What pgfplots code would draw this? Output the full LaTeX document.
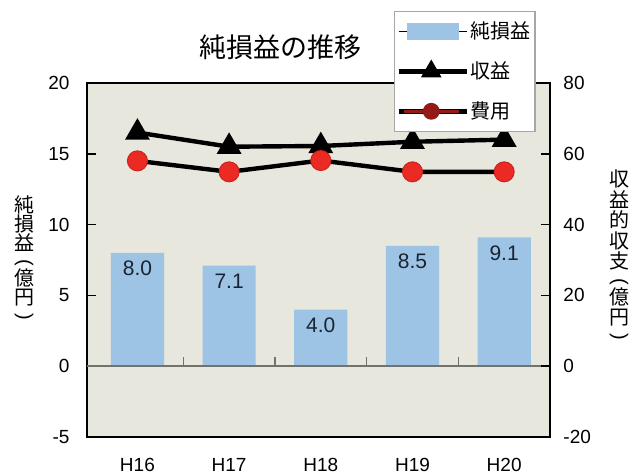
\documentclass[border=0pt]{standalone}
\usepackage{pgfplots}
\usepackage{pgfplotstable}
\pgfplotsset{compat=1.18}
\usepackage{fontspec}
\setmainfont{Liberation Sans}
\newfontfamily\jp{Noto Sans CJK JP}

\definecolor{plotbg}{RGB}{232,231,221}
\definecolor{barblue}{RGB}{158,196,229}
\definecolor{costred}{RGB}{236,42,36}
\definecolor{costline}{RGB}{150,25,25}
\definecolor{zeroline}{RGB}{115,115,110}
\definecolor{labelnavy}{RGB}{25,35,50}

% parentheses turned for vertical (top-to-bottom) labels
\newcommand\vlp{\rotatebox[origin=c]{-90}{\normalfont(}}
\newcommand\vrp{\rotatebox[origin=c]{-90}{\normalfont)}}

% net profit (left axis), revenue and cost (right axis), 100 million yen
\pgfplotstableread{
x net revenue cost
0 8.0 66.0 58.0
1 7.1 62.0 54.9
2 4.0 62.2 58.1
3 8.5 63.4 54.9
4 9.1 64.0 54.9
}\data

\begin{document}
\begin{tikzpicture}
\path[use as bounding box] (0pt,0pt) rectangle (318.5pt,237.5pt);
\pgfplotsset{
  every axis/.append style={
    scale only axis, width=231.5pt, height=177pt,
    at={(43.5pt,19pt)}, anchor=south west,
    xmin=-0.55, xmax=4.5, clip=false,
    /pgf/number format/assume math mode=true,
    tick label style={font=\fontsize{9.5}{11}\selectfont},
    axis line style={line width=1pt},
    major tick length=4.5pt, tick align=inside,
    tick style={line width=0.8pt, black},
  },
}
% left axis: net profit bars
\begin{axis}[
  axis background/.style={fill=plotbg},
  ymin=-5, ymax=20, ytick={-5,0,...,20}, ytick pos=left,
  xtick={0,...,4}, xticklabels={H16,H17,H18,H19,H20},
  xtick style={draw=none},
  xticklabel style={anchor=base, yshift=-17.25pt},
  yticklabel style={anchor=east, xshift=-5.2pt},
]
\addplot[ybar, bar width=0.58, fill=barblue, draw=none,
  nodes near coords={\pgfmathprintnumber[fixed,fixed zerofill,precision=1]{\pgfplotspointmeta}},
  nodes near coords style={anchor=center, yshift=-7.75pt, text=labelnavy,
    font=\fontsize{10.5}{12}\selectfont}]
  table[x=x, y=net] {\data};
\draw[zeroline, line width=0.8pt] (axis cs:-0.55,0) -- (axis cs:4.5,0);
\draw[zeroline, line width=0.6pt] (axis cs:0.5,0) -- ++(0pt,4.5pt);
\draw[zeroline, line width=0.6pt] (axis cs:1.5,0) -- ++(0pt,4.5pt);
\draw[zeroline, line width=0.6pt] (axis cs:2.5,0) -- ++(0pt,4.5pt);
\draw[zeroline, line width=0.6pt] (axis cs:3.5,0) -- ++(0pt,4.5pt);
\node[font=\jp\fontsize{13.5}{15}\selectfont, inner sep=0pt]
  at (axis description cs:0.417,1.102) {純損益の推移};
\node[font=\jp\fontsize{10}{9.6}\selectfont, align=center, inner sep=0pt]
  at (axis description cs:-0.136,0.504)
  {純\\損\\益\\[-1pt]\vlp\\[-1pt]億\\円\\[-1pt]\vrp};
\end{axis}
% right axis: revenue and cost lines
\begin{axis}[
  axis x line=none, axis y line*=right,
  ymin=-20, ymax=80, ytick={-20,0,...,80},
  yticklabel style={anchor=west, xshift=3.2pt},
  legend style={at={(axis description cs:0.663,1.203)}, anchor=north west,
    draw=gray!70, line width=0.6pt, fill=white,
    font=\jp\fontsize{10}{12}\selectfont,
    inner xsep=1pt, inner ysep=3pt, row sep=6pt,
    nodes={inner xsep=1pt}},
  legend cell align=left,
]
\addlegendimage{legend image code/.code={
    \path (0pt,0pt) -- (34pt,0pt);
    \fill[barblue] (4.5pt,-4pt) rectangle (30pt,4pt);}}
\addlegendentry{純損益}
\addplot[black, line width=2.2pt, mark=triangle*, mark size=5pt,
  legend image code/.code={
    \path (0pt,0pt) -- (34pt,0pt);
    \draw[black, line width=1.3pt] (2.5pt,0pt) -- (30pt,0pt);
    \fill[black] (16.25pt,0pt) ++(90:3.8pt) -- ++(-120:6.5pt) -- ++(0:6.5pt) -- cycle;}]
  table[x=x, y=revenue] {\data};
\addlegendentry{収益}
\addplot[black, line width=2.2pt, mark=*, mark size=5pt,
  mark options={fill=costred, draw=costred!85!black, line width=0.5pt},
  legend image code/.code={
    \path (0pt,0pt) -- (34pt,0pt);
    \draw[costline, line width=1.3pt] (2.5pt,0pt) -- (30pt,0pt);
    \fill[costline] (16.25pt,0pt) circle (3.1pt);}]
  table[x=x, y=cost] {\data};
\addlegendentry{費用}
\node[font=\jp\fontsize{10}{10.3}\selectfont, align=center, inner sep=0pt]
  at (axis description cs:1.149,0.511)
  {収\\益\\的\\収\\支\\[-1.5pt]\vlp\\[-1.5pt]億\\円\\[-1.5pt]\vrp};
\end{axis}
\end{tikzpicture}
\end{document}
